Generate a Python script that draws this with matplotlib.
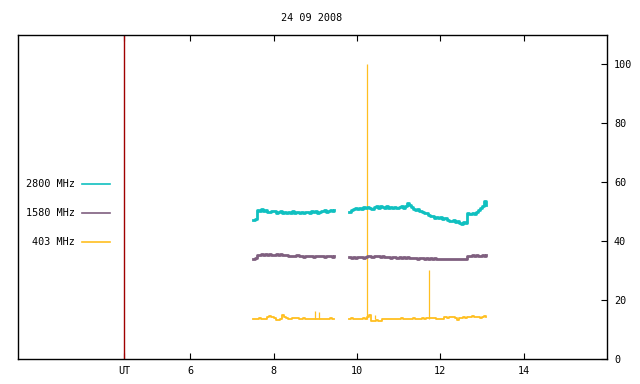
import numpy as np
import matplotlib
matplotlib.use('Agg')
import matplotlib.pyplot as plt

# sample times (UT hours), 3 min cadence, two observing blocks
t1 = np.round(np.arange(7.50, 9.49, 0.05), 2)
t2 = np.round(np.arange(9.80, 13.11, 0.05), 2)

f2800_1 = [47.3, 47.6, 50.6, 50.3, 50.8, 50.1, 50.5, 50.0, 49.8, 50.4, 50.2, 49.7,
           49.9, 50.3, 49.6, 50.0, 49.4, 49.8, 49.7, 50.1, 49.5, 49.8,
           49.6, 49.9, 49.4, 49.8, 50.0, 49.6, 50.2, 49.9, 50.4, 49.7,
           49.8, 50.3, 50.5, 50.0, 50.4, 50.7, 50.2, 50.5]
f2800_2 = [50.0, 50.6, 50.9, 51.3, 50.8, 51.4, 51.0, 51.5, 51.2, 51.6,
           51.3, 51.0, 51.7, 51.9, 51.4, 51.8, 51.5, 51.2, 51.9, 51.4,
           51.7, 51.3, 51.6, 51.2, 51.5, 51.8, 51.3, 52.0, 52.8, 52.3,
           51.5, 51.0, 50.6, 50.8, 50.3, 49.9, 49.5, 49.7, 49.0, 48.4,
           48.6, 48.0, 48.3, 47.9, 48.2, 47.6, 47.9, 47.3, 47.0, 46.8,
           47.2, 46.6, 46.9, 46.3, 46.0, 46.4, 46.1, 49.6, 49.2, 49.5,
           49.3, 49.9, 50.6, 51.2, 52.0, 53.8, 52.3]

f1580_1 = [34.0, 34.3, 35.4, 35.3, 35.6, 35.2, 35.5, 35.3, 35.6, 35.2, 35.4, 35.5,
           35.3, 35.6, 35.2, 35.4, 35.3, 35.0, 34.8, 35.1, 34.9, 35.2,
           34.8, 35.0, 34.7, 35.1, 34.9, 34.8, 35.0, 34.7, 34.9, 35.0,
           34.8, 35.1, 34.7, 34.9, 34.8, 35.0, 34.7, 34.9]
f1580_2 = [34.6, 34.4, 34.7, 34.3, 34.6, 34.5, 34.7, 34.4, 34.6, 34.8,
           35.0, 34.7, 34.9, 35.1, 34.8, 34.7, 34.9, 34.6, 34.5, 34.7,
           34.4, 34.6, 34.5, 34.3, 34.6, 34.4, 34.5, 34.3, 34.5, 34.4,
           34.2, 34.4, 34.3, 34.1, 34.3, 34.2, 34.0, 34.2, 34.1, 34.2,
           34.0, 34.2, 33.9, 34.1, 34.0, 34.1, 33.9, 34.0, 34.1, 33.9,
           34.0, 33.8, 34.0, 33.9, 33.8, 34.0, 33.9, 35.1, 35.1, 35.2,
           35.1, 35.2, 35.1, 35.1, 35.3, 35.1, 35.2]

f403_1 = [13.6, 13.7, 13.6, 13.8, 13.6, 13.6, 13.7, 14.3, 14.6, 14.4,
          13.9, 13.4, 13.1, 13.6, 14.8, 14.2, 13.9, 13.5, 13.6, 13.8,
          14.0, 13.9, 13.6, 13.6, 13.8, 13.7, 13.6, 13.7, 13.6, 13.6,
          13.7, 13.6, 13.6, 13.6, 13.6, 13.6, 13.6, 13.8, 13.6, 13.7]
f403_2 = [13.6, 13.8, 13.6, 13.6, 13.7, 13.6, 13.6, 13.9, 13.6, 14.3,
          14.8, 13.0, 13.0, 13.1, 13.0, 13.0, 13.6, 13.6, 13.6, 13.6,
          13.6, 13.6, 13.6, 13.7, 13.6, 13.8, 13.6, 13.6, 13.6, 13.6,
          13.7, 13.8, 13.6, 13.6, 13.7, 13.8, 13.7, 13.8, 13.8, 13.9,
          14.0, 13.8, 13.6, 13.5, 13.6, 13.6, 14.2, 13.9, 14.2, 14.4,
          14.1, 13.8, 13.3, 13.9, 13.8, 14.4, 14.0, 14.1, 14.2, 14.5,
          14.2, 14.4, 14.4, 14.0, 14.3, 14.6, 14.2]

# short bursts on 403 MHz
spike_t = [9.00, 9.10, 10.25, 10.44, 11.74]
spike_top = [16.3, 15.9, 100.0, 15.0, 30.3]
spike_base = 13.6

ut_mark = 4.42
xticks = [ut_mark, 6, 8, 10, 12, 14]
xlabels = ['UT', '6', '8', '10', '12', '14']
yticks = [0, 20, 40, 60, 80, 100]

c2800 = '#10c0c0'
c1580 = '#7f5f7f'
c403 = '#ffbf20'

font = 'DejaVu Sans Mono'
fs = 7.3

fig = plt.figure(figsize=(6.4, 3.84), dpi=100)
ax = fig.add_axes([18 / 640, 25 / 384, 589 / 640, 324 / 384])

ax.axvline(ut_mark, color='#a00000', lw=1.0)

ax.vlines(spike_t, spike_base, spike_top, color=c403, lw=0.9)
for t, y in [(t1, f403_1), (t2, f403_2)]:
    ax.plot(t, y, color=c403, lw=1.3, drawstyle='steps-post')
for t, y in [(t1, f1580_1), (t2, f1580_2)]:
    ax.plot(t, y, color=c1580, lw=2.0, drawstyle='steps-post')
for t, y in [(t1, f2800_1), (t2, f2800_2)]:
    ax.plot(t, y, color=c2800, lw=2.0, drawstyle='steps-post')

ax.set_xlim(1.87, 16.0)
ax.set_ylim(0, 110)

ax.set_xticks(xticks)
ax.set_xticklabels(xlabels, fontfamily=font, fontsize=fs)
ax.tick_params(axis='x', direction='in', top=True, length=4, width=0.8, pad=5)
ax.yaxis.tick_right()
ax.set_yticks(yticks)
ax.set_yticklabels([str(v) for v in yticks], fontfamily=font, fontsize=fs)
ax.tick_params(axis='y', direction='in', left=False, right=True, length=4, width=0.8, pad=5)
for s in ax.spines.values():
    s.set_linewidth(1.0)

# legend drawn by hand, text right-aligned before the sample line
leg = [('2800 MHz', c2800, 0.540), ('1580 MHz', c1580, 0.451), ('403 MHz', c403, 0.361)]
for name, col, yy in leg:
    ax.text(0.097, yy, name, transform=ax.transAxes, ha='right', va='center',
            fontfamily=font, fontsize=fs)
    ax.plot([0.109, 0.156], [yy, yy], transform=ax.transAxes, color=col, lw=1.2)

fig.text(312 / 640, 1 - 18 / 384, '24 09 2008', ha='center', va='center',
         fontfamily=font, fontsize=fs)

fig.savefig('out.png', dpi=100)
